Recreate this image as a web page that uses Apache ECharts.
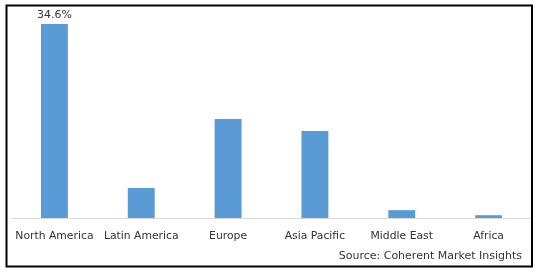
<!DOCTYPE html>
<html>
<head>
<meta charset="utf-8">
<script src="https://cdn.jsdelivr.net/npm/echarts@6/dist/echarts.min.js"></script>
<style>
html,body{margin:0;padding:0;background:#fff;}
#chart{width:538px;height:272px;}
</style>
</head>
<body>
<div id="chart"></div>
<script>
var categories = ["North America", "Latin America", "Europe", "Asia Pacific", "Middle East", "Africa"];
var values = [34.6, 5.35, 17.65, 15.5, 1.4, 0.5];
var labeledIndex = 0;
var sourceText = "Source: Coherent Market Insights";

var chart = echarts.init(document.getElementById('chart'), null, {renderer: 'canvas'});
chart.setOption({
  animation: false,
  backgroundColor: '#fff',
  grid: {left: 11, top: 24, width: 521, height: 194, containLabel: false},
  xAxis: {
    type: 'category',
    data: categories,
    axisLine: {show: true, lineStyle: {color: '#d9d9d9', width: 1}},
    axisTick: {show: false},
    axisLabel: {color: '#333333', fontFamily: 'DejaVu Sans', fontSize: 10.8, margin: 13, interval: 0}
  },
  yAxis: {
    type: 'value', min: 0, max: 34.6,
    show: false, splitLine: {show: false}
  },
  series: [{
    type: 'bar',
    data: values.map(function(v, i){
      return {value: v, label: {show: i === labeledIndex}};
    }),
    barWidth: '31%',
    itemStyle: {color: '#5b9bd5'},
    label: {
      position: 'top', distance: 3,
      formatter: function(p){ return p.value + '%'; },
      color: '#333333', fontFamily: 'DejaVu Sans', fontSize: 11
    }
  }],
  graphic: [
    {type: 'rect', shape: {x: 6.5, y: 5.5, width: 525.5, height: 261}, style: {fill: 'none', stroke: '#000', lineWidth: 2}, z: 100},
    {type: 'text', right: 16, top: 251, style: {text: sourceText, fill: '#333333', font: '11px "DejaVu Sans"'}}
  ]
});
</script>
</body>
</html>
